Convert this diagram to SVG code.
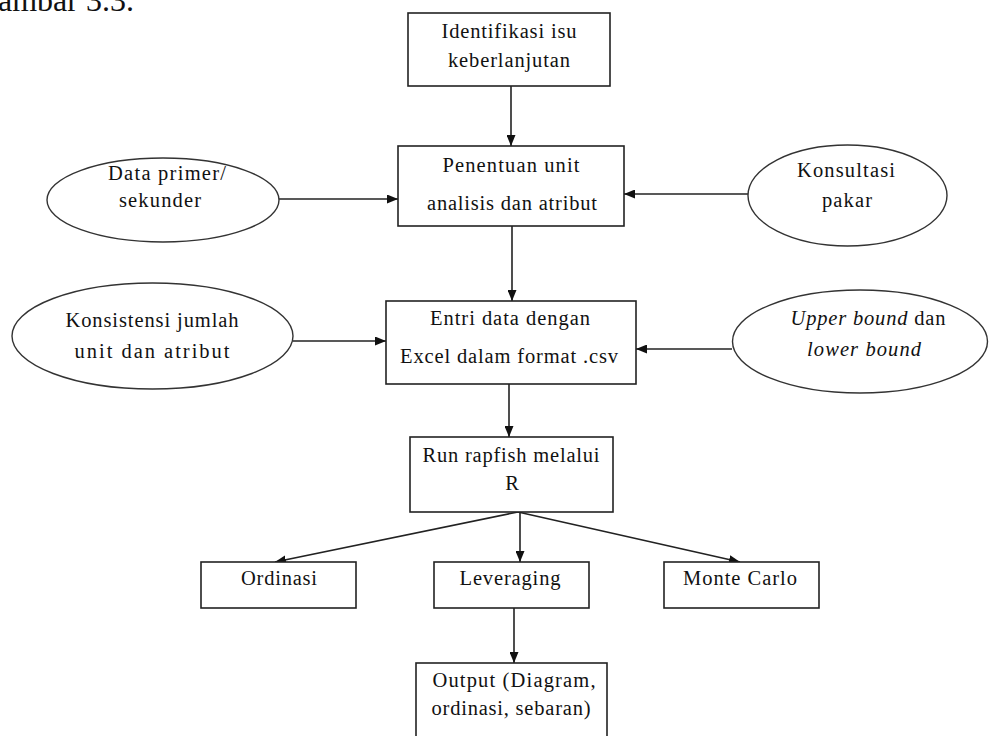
<svg xmlns="http://www.w3.org/2000/svg" width="989" height="736" viewBox="0 0 989 736">
  <defs>
    <marker id="arrow" markerUnits="userSpaceOnUse" markerWidth="11" markerHeight="9" refX="11" refY="4.5" orient="auto">
      <path d="M0,0 L11,4.5 L0,9 z" fill="#111"/>
    </marker>
    <style>
      .box { fill: #fff; stroke: #222; stroke-width: 1.6; }
      .oval { fill: #fff; stroke: #333; stroke-width: 1.4; }
      .lbl { font-family: "Liberation Serif", "Times New Roman", serif; font-size: 20.5px; fill: #111; text-anchor: middle; }
      .it { font-style: italic; }
      .edge { stroke: #222; stroke-width: 1.6; fill: none; marker-end: url(#arrow); }
    </style>
  </defs>
  <rect width="989" height="736" fill="#fff"/>

  <!-- caption, clipped at the top edge -->
  <text x="-2" y="11" font-family="Liberation Serif, Times New Roman, serif" font-size="32" fill="#111">ambar 3.3.</text>

  <!-- connectors -->
  <g id="connectors">
    <line class="edge" x1="511" y1="86" x2="511" y2="146"/>
    <line class="edge" x1="279" y1="199" x2="398" y2="199"/>
    <line class="edge" x1="748" y1="194" x2="624" y2="194"/>
    <line class="edge" x1="512" y1="226" x2="512" y2="301"/>
    <line class="edge" x1="293" y1="341" x2="386" y2="341"/>
    <line class="edge" x1="732" y1="349" x2="636" y2="349"/>
    <line class="edge" x1="509" y1="384" x2="509" y2="437"/>
    <line class="edge" x1="518" y1="512" x2="275" y2="562"/>
    <line class="edge" x1="520" y1="512" x2="520" y2="562"/>
    <line class="edge" x1="518" y1="512" x2="740" y2="562"/>
    <line class="edge" x1="514" y1="608" x2="514" y2="663"/>
  </g>

  <g id="identifikasi">
    <rect class="box" x="408" y="13" width="202" height="73"/>
    <text class="lbl" x="509" y="38" textLength="135" lengthAdjust="spacing">Identifikasi isu</text>
    <text class="lbl" x="509" y="67" textLength="122" lengthAdjust="spacing">keberlanjutan</text>
  </g>

  <g id="penentuan">
    <rect class="box" x="398" y="146" width="226" height="80"/>
    <text class="lbl" x="511" y="172" textLength="137" lengthAdjust="spacing">Penentuan unit</text>
    <text class="lbl" x="512" y="210" textLength="170" lengthAdjust="spacing">analisis dan atribut</text>
  </g>

  <g id="data-primer">
    <ellipse class="oval" cx="163" cy="200" rx="116" ry="42"/>
    <text class="lbl" x="167" y="180" textLength="118" lengthAdjust="spacing">Data primer/</text>
    <text class="lbl" x="160" y="207" textLength="82" lengthAdjust="spacing">sekunder</text>
  </g>

  <g id="konsultasi">
    <ellipse class="oval" cx="847.5" cy="195.5" rx="99.5" ry="50.5"/>
    <text class="lbl" x="846" y="177" textLength="98" lengthAdjust="spacing">Konsultasi</text>
    <text class="lbl" x="847" y="207" textLength="50" lengthAdjust="spacing">pakar</text>
  </g>

  <g id="konsistensi">
    <ellipse class="oval" cx="152.5" cy="336" rx="140.5" ry="53"/>
    <text class="lbl" x="152" y="327" textLength="173" lengthAdjust="spacing">Konsistensi jumlah</text>
    <text class="lbl" x="152" y="358" textLength="155" lengthAdjust="spacing">unit dan atribut</text>
  </g>

  <g id="entri">
    <rect class="box" x="386" y="301" width="250" height="83"/>
    <text class="lbl" x="510" y="325" textLength="160" lengthAdjust="spacing">Entri data dengan</text>
    <text class="lbl" x="509" y="363" textLength="218" lengthAdjust="spacing">Excel dalam format .csv</text>
  </g>

  <g id="bound">
    <ellipse class="oval" cx="860" cy="341.5" rx="127.5" ry="51.5"/>
    <text class="lbl" x="868" y="325" textLength="155" lengthAdjust="spacing"><tspan class="it">Upper bound</tspan> dan</text>
    <text class="lbl it" x="864" y="356" textLength="114" lengthAdjust="spacing">lower bound</text>
  </g>

  <g id="run">
    <rect class="box" x="410" y="437" width="203" height="75"/>
    <text class="lbl" x="511" y="462" textLength="177" lengthAdjust="spacing">Run rapfish melalui</text>
    <text class="lbl" x="512" y="490">R</text>
  </g>

  <g id="ordinasi">
    <rect class="box" x="201" y="562" width="155" height="46"/>
    <text class="lbl" x="279" y="585" textLength="76" lengthAdjust="spacing">Ordinasi</text>
  </g>

  <g id="leveraging">
    <rect class="box" x="434" y="562" width="155" height="46"/>
    <text class="lbl" x="510" y="585" textLength="101" lengthAdjust="spacing">Leveraging</text>
  </g>

  <g id="monte-carlo">
    <rect class="box" x="664" y="562" width="155" height="46"/>
    <text class="lbl" x="740" y="585" textLength="114" lengthAdjust="spacing">Monte Carlo</text>
  </g>

  <g id="output">
    <rect class="box" x="416" y="663" width="191" height="100"/>
    <text class="lbl" x="514" y="687" textLength="163" lengthAdjust="spacing">Output (Diagram,</text>
    <text class="lbl" x="511" y="715" textLength="159" lengthAdjust="spacing">ordinasi, sebaran)</text>
  </g>
</svg>
